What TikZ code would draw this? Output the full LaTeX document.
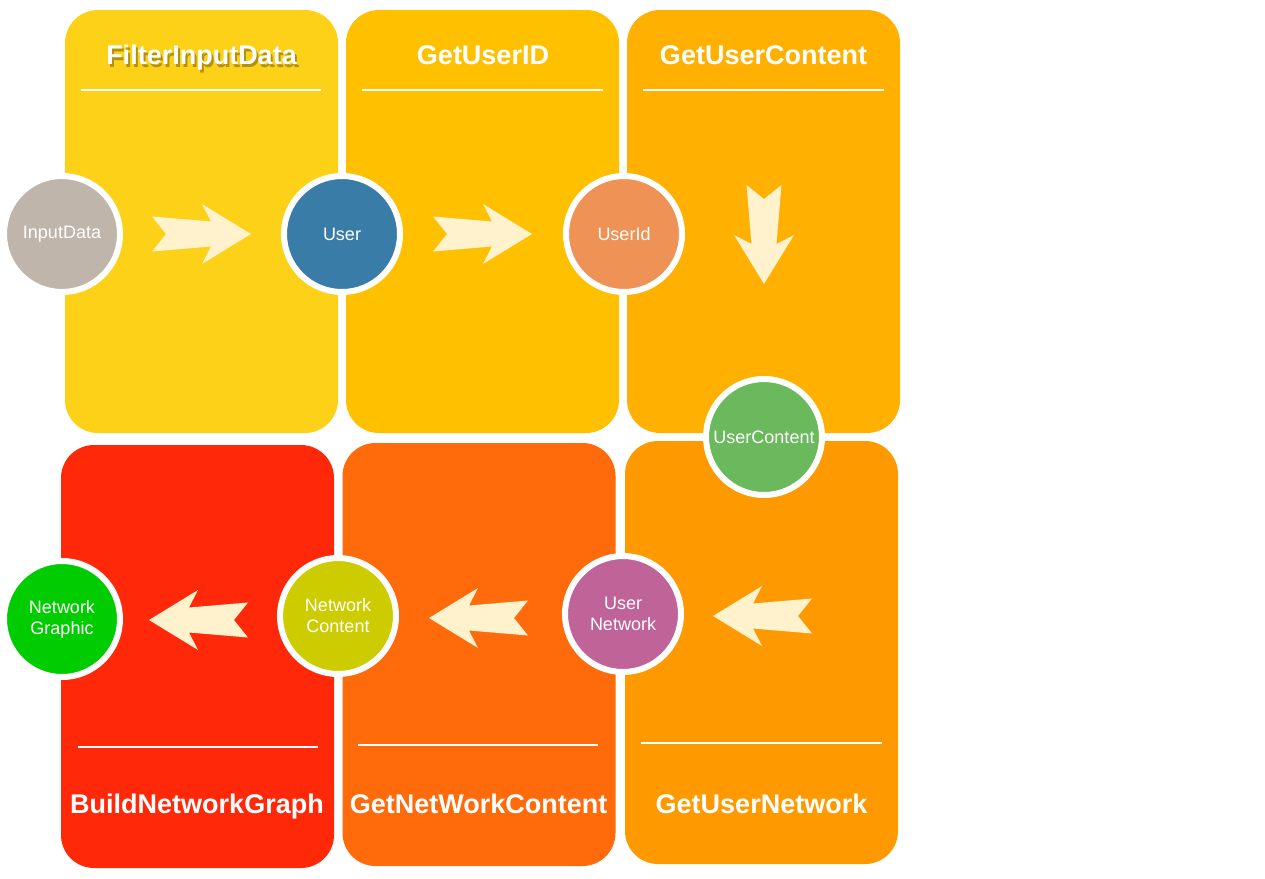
\documentclass[tikz,border=0pt]{standalone}
\usepackage{fontspec}
\setmainfont{Liberation Sans}
\definecolor{cpa}{RGB}{253,209,24}
\definecolor{cpb}{RGB}{255,192,0}
\definecolor{cpc}{RGB}{255,176,0}
\definecolor{cpd}{RGB}{255,40,8}
\definecolor{cpe}{RGB}{255,106,10}
\definecolor{cpf}{RGB}{255,153,0}
\definecolor{carrow}{RGB}{255,242,204}
\definecolor{cinput}{RGB}{191,181,170}
\definecolor{cuser}{RGB}{58,124,168}
\definecolor{cuserid}{RGB}{238,147,85}
\definecolor{cucontent}{RGB}{106,185,92}
\definecolor{cngraphic}{RGB}{0,204,0}
\definecolor{cncontent}{RGB}{204,204,0}
\definecolor{cunetwork}{RGB}{191,99,153}
\tikzset{
  panel/.style={rectangle, rounded corners=33pt, inner sep=0pt, minimum width=273pt, minimum height=423pt},
  sepline/.style={draw=white, line width=2pt},
  ptitle/.style={text=white, font=\fontsize{27}{32}\selectfont\bfseries, inner sep=0pt, anchor=base},
  datacirc/.style={circle, draw=white, line width=6pt, minimum size=116pt, inner sep=0pt, text=white, align=center, font=\fontsize{18}{21}\selectfont},
  barrow/.pic={\fill[carrow] (0,-17.5) -- (14,0) -- (0,17.5) -- (59,12.5) -- (50,30) -- (99,0) -- (50,-30) -- (59,-12.5) -- cycle;}
}
\begin{document}
\begin{tikzpicture}[x=1pt,y=-1pt]
\useasboundingbox (0,0) rectangle (1265,878);
\fill[white] (0,0) rectangle (1265,878);
% panels
\node[panel, fill=cpa] (pa) at (201.5,221.5) {};
\node[panel, fill=cpb] (pb) at (482.5,221.5) {};
\node[panel, fill=cpc] (pc) at (763.5,221.5) {};
\node[panel, fill=cpd] (pd) at (197.5,656.5) {};
\node[panel, fill=cpe] (pe) at (479,654.5) {};
\node[panel, fill=cpf] (pf) at (761.5,652.5) {};
% separator lines
\coordinate (la1) at (81,90); \coordinate (la2) at (321,90);
\coordinate (lb1) at (362,90); \coordinate (lb2) at (603,90);
\coordinate (lc1) at (643,90); \coordinate (lc2) at (884,90);
\coordinate (ld1) at (78,747); \coordinate (ld2) at (318,747);
\coordinate (le1) at (358,745); \coordinate (le2) at (598,745);
\coordinate (lf1) at (641,743); \coordinate (lf2) at (882,743);
\draw[sepline] (la1) -- (la2);
\draw[sepline] (lb1) -- (lb2);
\draw[sepline] (lc1) -- (lc2);
\draw[sepline] (ld1) -- (ld2);
\draw[sepline] (le1) -- (le2);
\draw[sepline] (lf1) -- (lf2);
% titles
\node[ptitle, text=black, opacity=0.3] (tashadow) at (203.5,67) {FilterInputData};
\node[ptitle] (ta) at (201.5,64) {FilterInputData};
\node[ptitle] (tb) at (483,64) {GetUserID};
\node[ptitle] (tc) at (763.5,64) {GetUserContent};
\node[ptitle] (td) at (197,813) {BuildNetworkGraph};
\node[ptitle] (te) at (478.5,813) {GetNetWorkContent};
\node[ptitle] (tf) at (761.5,813) {GetUserNetwork};
% arrows
\pic at (152,234) {barrow};
\pic at (433,234) {barrow};
\pic[rotate=-90] at (764,185) {barrow};
\pic[xscale=-1] at (248,620) {barrow};
\pic[xscale=-1] at (528,618) {barrow};
\pic[xscale=-1] at (812,616) {barrow};
% data circles
\node[datacirc, fill=cinput] (inputdata) at (62,234) {InputData};
\node[datacirc, fill=cuser] (user) at (342,234) {User};
\node[datacirc, fill=cuserid] (userid) at (624,234) {UserId};
\node[datacirc, fill=cucontent] (usercontent) at (764,437) {UserContent};
\node[datacirc, fill=cunetwork] (usernetwork) at (623,614) {User\\Network};
\node[datacirc, fill=cncontent] (netcontent) at (338,616) {Network\\Content};
\node[datacirc, fill=cngraphic] (netgraphic) at (62,619) {Network\\Graphic};
\end{tikzpicture}
\end{document}
